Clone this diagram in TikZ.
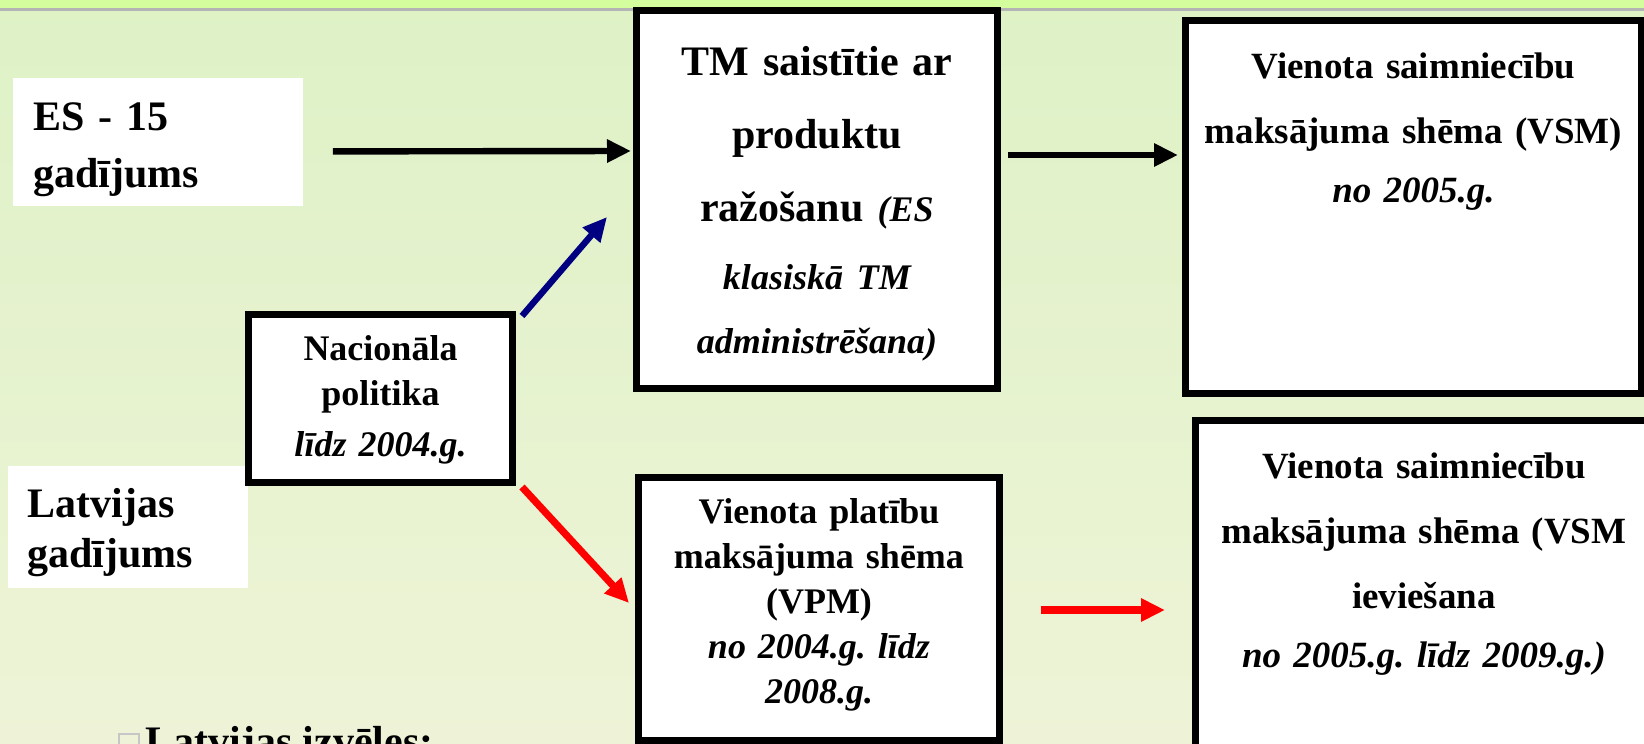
\documentclass[tikz,border=0pt]{standalone}
\usepackage{fontspec}
\setmainfont{Liberation Serif}
\usetikzlibrary{arrows.meta}
\frenchspacing

\definecolor{topgreen}{HTML}{D4FD9E}
\definecolor{rulegray}{HTML}{B4B4B4}
\definecolor{bgtop}{HTML}{DEF2C6}
\definecolor{bgbottom}{HTML}{EEF3D7}
\definecolor{arrowblue}{HTML}{000080}

\newcommand{\smallit}[1]{{\itshape\fontsize{18}{36.75}\selectfont #1}}

\tikzset{
  stepbox/.style={draw, line width=3.5pt, fill=white, inner sep=0pt, align=center, anchor=north west},
  casebox/.style={fill=white, inner ysep=0pt, align=left, anchor=north west,
    font=\fontsize{21}{28.5}\selectfont\bfseries},
  flow/.style={line width=3.2pt, -{Triangle[length=12pt,width=11pt]}},
}

\begin{document}
\begin{tikzpicture}[x=0.5pt, y=-0.5pt]
\useasboundingbox (0,0) rectangle (1644,744);
\clip (0,0) rectangle (1644,744);

% background
\fill[top color=bgtop, bottom color=bgbottom] (0,0) rectangle (1644,744);
\fill[topgreen] (0,0) rectangle (1644,8);
\fill[rulegray] (0,8) rectangle (1644,11);

% left labels
\node[casebox, inner xsep=10pt, text width=125pt, text height=26pt, text depth=38pt] (es15) at (13,78)
  {ES - 15\\ gadījums};
\node[casebox, inner xsep=9.5pt, text width=101pt, text height=25.5pt, text depth=35.5pt,
  font=\fontsize{21}{25}\selectfont\bfseries] (latv) at (8,466)
  {Latvijas\\ gadījums};

% boxes
\node[stepbox, font=\fontsize{18}{22.5}\selectfont\bfseries, text width=132pt,
  text height=22.75pt, text depth=61.25pt] (nac) at (245,311)
  {Nacionāla\\ politika\\[3pt] \textit{līdz 2004.g.}};
\node[stepbox, font=\fontsize{21}{36.75}\selectfont\bfseries, text width=180.5pt,
  text height=32.25pt, text depth=156.75pt] (tm) at (633,7)
  {TM saistītie ar\\ produktu\\ ražošanu \smallit{(ES}\\[-2.75pt] \smallit{klasiskā TM}\\[-5.25pt] \smallit{administrēšana)}};
\node[stepbox, font=\fontsize{18}{22.5}\selectfont\bfseries, text width=180.5pt,
  text height=22.75pt, text depth=108.75pt] (vpm) at (635,474)
  {Vienota platību\\ maksājuma shēma\\ (VPM)\\ \textit{no 2004.g. līdz}\\ \textit{2008.g.}};
\node[stepbox, font=\fontsize{18.5}{32.5}\selectfont\bfseries, text width=228pt,
  text height=28.75pt, text depth=157.75pt] (vsmA) at (1182,17)
  {Vienota saimniecību\\ maksājuma shēma (VSM)\\[-3pt] \textit{no 2005.g.}};
\node[stepbox, font=\fontsize{18.5}{32.5}\selectfont\bfseries, text width=228.5pt,
  text height=28.75pt, text depth=156pt] (vsmB) at (1192,417)
  {Vienota saimniecību\\ maksājuma shēma (VSM\\ ieviešana\\[-3pt] \textit{no 2005.g. līdz 2009.g.)}};

% bottom line
\node[draw=gray!45, line width=0.8pt, inner sep=0pt, minimum size=10pt] (bullet) at (129,744) {};
\node[anchor=base west, inner sep=0pt, font=\fontsize{21}{25}\selectfont\bfseries] (choice) at (145,755)
  {Latvijas izvēles:};

% arrows
\draw[flow] ([shift={(29,9)}]es15.east) -- ([shift={(-2,-48.5)}]tm.west);
\draw[flow] ([shift={(7,-44.5)}]tm.east) -- ([shift={(-4,-52)}]vsmA.west);
\draw[flow, arrowblue] ([shift={(6,5)}]nac.north east) -- ([shift={(-26,17.5)}]tm.west);
\draw[flow, red, line width=3.6pt] ([shift={(6,1)}]nac.south east) -- ([shift={(-6,-6)}]vpm.west);
\draw[flow, red, line width=3.6pt] ([shift={(38,1)}]vpm.east) -- ([shift={(-27,4.75)}]vsmB.west);
\end{tikzpicture}
\end{document}
